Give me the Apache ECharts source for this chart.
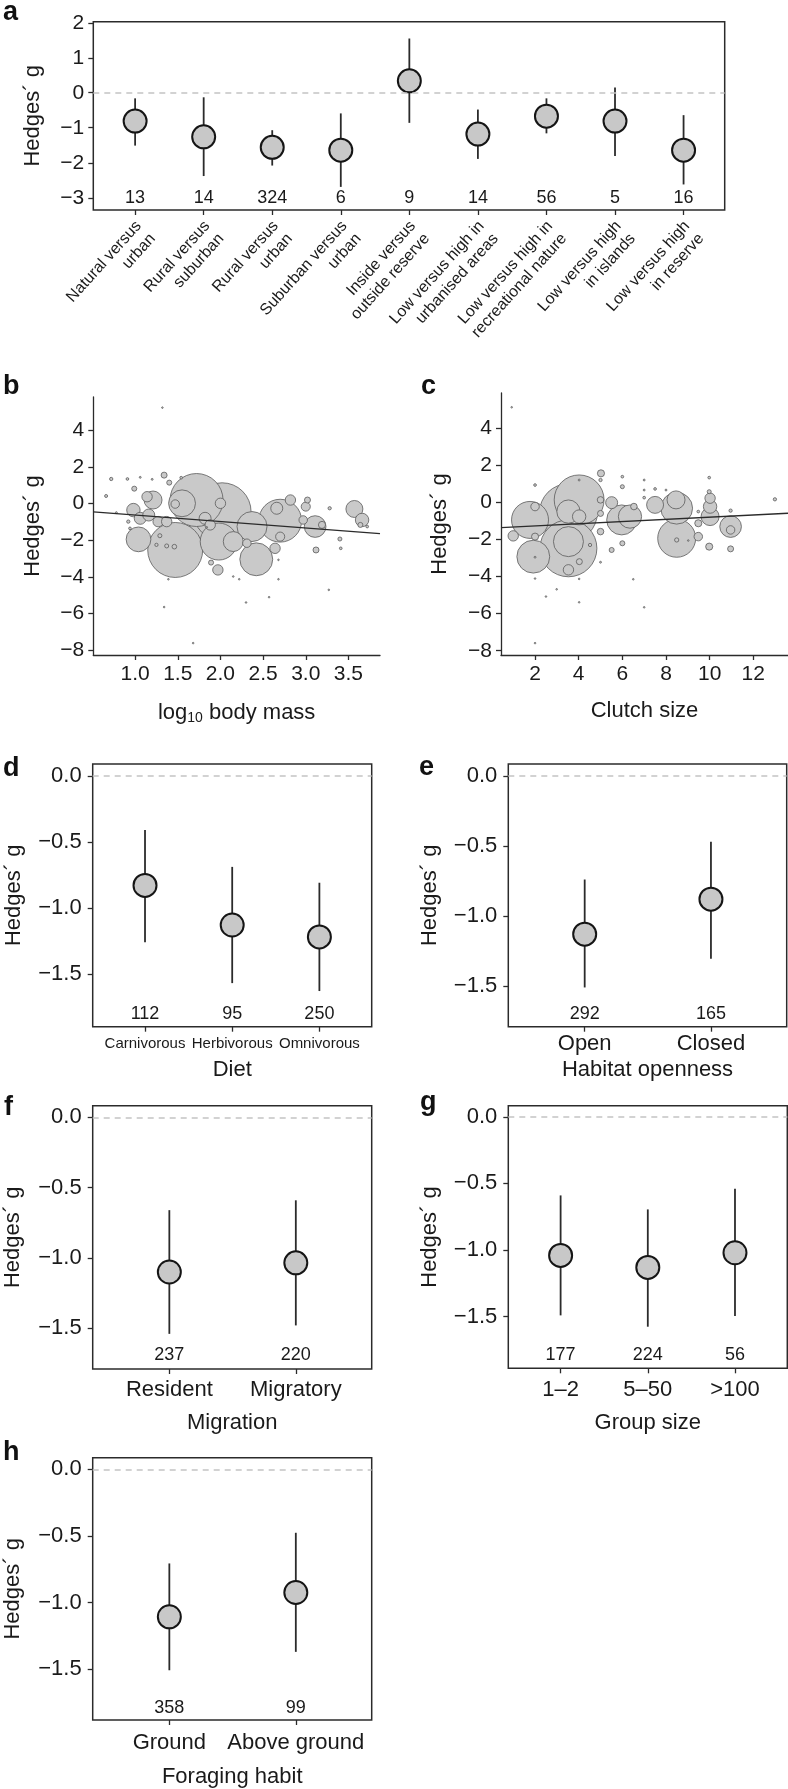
<!DOCTYPE html>
<html><head><meta charset="utf-8">
<script src="https://cdn.jsdelivr.net/npm/echarts@6/dist/echarts.min.js"></script>
<style>html,body{margin:0;padding:0;background:#fff}#c{width:788px;height:1789px}</style>
</head><body><div id="c"></div>
<script>
const FONT = '"Liberation Sans", Arial, Helvetica, sans-serif';
const INK = '#1a1a1a';
const Y_NAME = 'Hedges\u00b4 g';

// ---------- Panel a ----------
const aCategories = ['Natural versus\nurban', 'Rural versus\nsuburban', 'Rural versus\nurban', 'Suburban versus\nurban',
  'Inside versus\noutside reserve', 'Low versus high in\nurbanised areas', 'Low versus high in\nrecreational nature',
  'Low versus high\nin islands', 'Low versus high\nin reserve'];
const aMean  = [-0.81, -1.26, -1.56, -1.64, 0.34, -1.18, -0.67, -0.81, -1.64];
const aLower = [-1.51, -2.38, -2.08, -2.69, -0.86, -1.89, -1.16, -1.81, -2.62];
const aUpper = [-0.16, -0.13, -1.07, -0.59, 1.55, -0.48, -0.16, 0.15, -0.64];
const aN     = [13, 14, 324, 6, 9, 14, 56, 5, 16];
const aYTicks = [-3, -2, -1, 0, 1, 2];

// ---------- Panel b (log10 body mass) ----------
const bLogMass = [1.96, 2.02, 1.47, 1.72, 2.70, 1.98, 2.42, 1.55, 2.37, 1.04, 3.11, 2.15, 1.21, 3.57, 3.66,
  0.98, 1.06, 1.16, 1.82, 2.66, 2.82, 1.27, 1.37, 1.14, 1.88, 2.00, 2.64, 3.00, 1.97, 2.70, 1.47, 2.31, 2.97, 3.19,
  3.02, 1.34, 3.12, 1.46, 1.37, 1.29, 1.25, 3.64, 0.99, 1.40, 1.89, 3.40, 3.28, 0.72, 0.66, 0.91, 1.54, 3.41, 3.72,
  0.94, 0.92, 1.06, 1.20, 0.78,
  1.32, 1.34, 1.68, 1.39, 2.22, 2.30, 2.57, 2.68, 3.27, 2.68, 2.15, 1.84];
const bHedges = [-0.56, -0.44, -2.53, 0.20, -0.93, -2.07, -3.04, 0.02, -1.25, -1.95, -1.25, -2.07, 0.20, -0.29, -0.89,
  -0.35, -0.80, -0.62, -0.80, -0.25, 0.20, -0.98, -0.98, 0.38, -1.16, 0.02, -2.44, -0.16, -3.62, -1.80, -0.02, -2.16, -0.89, -1.16,
  0.20, 1.56, -2.53, -2.35, -2.31, -1.75, -2.25, -1.16, 0.82, 1.15, -3.22, -1.93, -0.25, 1.35, 0.42, 1.35, 1.42, -2.44, -1.25,
  -1.35, -0.98, 1.44, 1.33, -0.49,
  5.25, -5.65, -7.62, -4.13, -4.13, -5.40, -5.11, -4.13, -4.71, -3.07, -3.98, -1.29];
const bWeight = [100, 93, 84, 78, 51, 38, 30, 20, 25, 17, 13, 11, 9, 8, 5,
  5, 4, 4, 4, 4, 3, 3, 3, 3, 3, 3, 3, 2.3, 3, 2.3, 2, 2, 2, 1.4,
  1, 1, 1, 0.6, 0.45, 0.45, 0.3, 0.7, 0.7, 0.7, 0.7, 0.45, 0.3, 0.3, 0.25, 0.2, 0.2, 0.2, 0.2,
  0.2, 0.3, 0.1, 0.1, 0.1,
  0.05, 0.05, 0.05, 0.05, 0.05, 0.05, 0.05, 0.05, 0.05, 0.05, 0.05, 0.05];
const bFitX = [0.51, 3.87];
const bFitY = [-0.45, -1.64];
const bXTicks = [1.0, 1.5, 2.0, 2.5, 3.0, 3.5];

// ---------- Panel c (clutch size) ----------
const cClutch = [3.53, 3.53, 4.02, 8.49, 1.77, 1.92, 8.49, 5.97, 3.53, 3.53, 6.35, 10.96, 8.46, 10.02, 7.50,
  4.02, 5.51, 10.02, 3.53, 1.00, 10.02, 2.00, 9.48, 10.96, 5.02, 2.00, 9.98, 9.48, 5.00, 5.00, 6.53, 4.03, 10.96,
  5.51, 6.00, 8.49, 6.00, 5.00, 5.00, 10.96, 9.98, 12.99, 4.52, 7.00, 6.00, 9.98, 7.50, 9.48, 2.00, 7.00, 7.00, 8.00, 4.02,
  0.93, 2.00, 2.50, 2.99, 4.02, 4.02, 6.50, 7.00, 2.00, 5.00, 2.00, 9.02];
const cHedges = [-0.56, -2.48, 0.13, -1.94, -0.95, -2.93, -0.32, -0.95, -2.12, -0.50, -0.77, -1.31, 0.13, -0.77, -0.14,
  -0.77, -0.02, -0.23, -3.64, -1.81, 0.22, -0.23, -1.13, -1.49, 1.56, -1.85, -2.39, -1.85, 0.13, -1.58, -0.23, -3.20, -2.51,
  -2.57, -2.21, -2.03, 0.84, -0.60, 1.20, -0.45, 0.57, 0.16, -2.30, 0.25, 1.38, 1.33, 0.72, -0.50, 0.93, 1.20, 0.66, 0.66, 1.20,
  5.12, -7.59, -5.08, -4.69, -5.39, -4.13, -4.15, -5.66, -4.11, -3.23, -2.96, -2.06];
const cWeight = [93, 90, 69, 40, 38, 30, 28, 25, 25, 15, 15, 13, 9, 9, 8,
  5, 4, 5, 3, 3, 3, 2, 1.4, 2, 1.4, 1.4, 1.4, 2, 1.2, 1.2, 1.2, 1, 1,
  0.7, 0.7, 0.5, 0.45, 1, 0.3, 0.3, 0.45, 0.3, 0.3, 0.2, 0.2, 0.2, 0.2, 0.2, 0.2, 0.1, 0.1, 0.1, 0.1,
  0.05, 0.05, 0.05, 0.05, 0.05, 0.05, 0.05, 0.05, 0.05, 0.1, 0.1, 0.05];
const cFitX = [0.44, 13.59];
const cFitY = [-1.36, -0.59];
const cXTicks = [2, 4, 6, 8, 10, 12];
const scatterYTicks = [-8, -6, -4, -2, 0, 2, 4];

// ---------- Panels d-h ----------
const effectYTicks = [-1.5, -1.0, -0.5, 0.0];
const dCategories = ['Carnivorous', 'Herbivorous', 'Omnivorous'];
const dMean = [-0.83, -1.13, -1.22], dLower = [-1.26, -1.57, -1.63], dUpper = [-0.41, -0.69, -0.81], dN = [112, 95, 250];
const eCategories = ['Open', 'Closed'];
const eMean = [-1.13, -0.88], eLower = [-1.51, -1.305], eUpper = [-0.74, -0.47], eN = [292, 165];
const fCategories = ['Resident', 'Migratory'];
const fMean = [-1.10, -1.035], fLower = [-1.54, -1.48], fUpper = [-0.66, -0.59], fN = [237, 220];
const gCategories = ['1\u20132', '5\u201350', '>100'];
const gMean = [-1.04, -1.13, -1.02], gLower = [-1.49, -1.575, -1.495], gUpper = [-0.59, -0.695, -0.54], gN = [177, 224, 56];
const hCategories = ['Ground', 'Above ground'];
const hMean = [-1.106, -0.924], hLower = [-1.507, -1.369], hUpper = [-0.706, -0.476], hN = [358, 99];

// ---------- build ----------
const minus = s => s.replace('-', '\u2212');
const option = {
  animation: false,
  backgroundColor: '#fff',
  textStyle: { fontFamily: FONT, color: INK },
  grid: [], xAxis: [], yAxis: [], series: [], graphic: []
};
const tickStyle = { color: '#2b2b2b', width: 1.3 };

function addEffectPanel(p) {
  const gi = option.grid.length;
  option.grid.push({ left: p.left, top: p.top, width: p.width, height: p.height, show: true,
    borderColor: '#2b2b2b', borderWidth: 1.5, backgroundColor: 'transparent' });
  const pos = p.cats.map((c, i) => i + 1);
  option.xAxis.push({ gridIndex: gi, type: 'value', min: p.xMin, max: p.xMax, position: 'bottom',
    axisLine: { show: false, onZero: false }, splitLine: { show: false },
    axisTick: { show: true, customValues: pos, length: 5, lineStyle: tickStyle },
    axisLabel: { show: !p.rotate, customValues: pos, formatter: v => p.cats[Math.round(v) - 1], fontSize: p.catFont,
      margin: p.catMargin, color: INK, hideOverlap: false, showMinLabel: true, showMaxLabel: true },
    name: p.xName || '', nameLocation: 'middle', nameGap: p.xNameGap || 30,
    nameTextStyle: { fontSize: 22, color: INK } });
  option.yAxis.push({ gridIndex: gi, type: 'value', min: p.yMin, max: p.yMax, position: 'left',
    axisLine: { show: false, onZero: false }, splitLine: { show: false },
    axisTick: { show: true, customValues: p.yTicks, length: 5, lineStyle: tickStyle },
    axisLabel: { customValues: p.yTicks, formatter: p.yFmt, fontSize: p.yFont, margin: p.yMargin, color: INK,
      showMinLabel: true, showMaxLabel: true },
    name: Y_NAME, nameLocation: 'middle', nameRotate: 90, nameGap: p.yNameGap,
    nameTextStyle: { fontSize: 22, color: INK } });
  option.series.push({ type: 'custom', xAxisIndex: gi, yAxisIndex: gi, silent: true, z: 2,
    data: p.cats.map((c, i) => [i + 1, p.lower[i], p.upper[i]]),
    renderItem: (params, api) => {
      const a = api.coord([api.value(0), api.value(1)]);
      const b = api.coord([api.value(0), api.value(2)]);
      return { type: 'line', shape: { x1: a[0], y1: a[1], x2: b[0], y2: b[1] },
        style: { stroke: '#2b2b2b', lineWidth: 1.8 } };
    } });
  option.series.push({ type: 'scatter', xAxisIndex: gi, yAxisIndex: gi, silent: true, z: 3,
    data: p.mean.map((m, i) => [i + 1, m]), symbol: 'circle', symbolSize: 23,
    itemStyle: { color: '#c8c8c8', borderColor: '#151515', borderWidth: 2, opacity: 1 },
    markLine: { silent: true, symbol: ['none', 'none'], label: { show: false },
      lineStyle: { type: [6, 5], color: '#c4c4c4', width: 1.5 }, data: [{ yAxis: 0 }] } });
  option.series.push({ type: 'custom', xAxisIndex: gi, yAxisIndex: gi, silent: true, z: 4,
    data: p.n.map((n, i) => [i + 1, p.nY, n]),
    renderItem: (params, api) => {
      const pt = api.coord([api.value(0), api.value(1)]);
      return { type: 'text', x: pt[0], y: pt[1],
        style: { text: String(api.value(2)), fill: INK, fontSize: p.nFont, fontFamily: FONT,
          align: 'center', verticalAlign: 'middle' } };
    } });
  if (p.rotate) {
    // rotated two-line category labels, anchored under each category tick
    const rad = p.rotate * Math.PI / 180;
    option.series.push({ type: 'custom', xAxisIndex: gi, yAxisIndex: gi, silent: true, clip: false, z: 4,
      data: pos.map(x => [x, p.yMin]),
      renderItem: (params, api) => {
        const pt = api.coord([api.value(0), api.value(1)]);
        return { type: 'text', x: pt[0] + p.rotDx, y: pt[1] + p.rotDy, rotation: rad,
          style: { text: p.cats[params.dataIndex], fill: INK, fontSize: p.catFont, fontFamily: FONT,
            lineHeight: p.catLineHeight, align: 'right', verticalAlign: 'middle' } };
      } });
  }
}

function addScatterPanel(p) {
  const gi = option.grid.length;
  option.grid.push({ left: p.left, top: p.top, width: p.width, height: p.height, show: false });
  option.xAxis.push({ gridIndex: gi, type: 'value', min: p.xMin, max: p.xMax, position: 'bottom',
    axisLine: { show: true, onZero: false, lineStyle: { color: '#2b2b2b', width: 1.3 } }, splitLine: { show: false },
    axisTick: { show: true, customValues: p.xTicks, length: 5, lineStyle: tickStyle },
    axisLabel: { customValues: p.xTicks, formatter: p.xFmt, fontSize: 21, margin: 9, color: INK,
      showMinLabel: true, showMaxLabel: true },
    name: p.xName, nameLocation: 'middle', nameGap: p.xNameGap,
    nameTextStyle: { fontSize: 22, color: INK, rich: {
      n: { fontSize: 22, fontFamily: FONT, color: INK },
      s: { fontSize: 14, fontFamily: FONT, color: INK, padding: [10, 0, 0, 0] } } } });
  option.yAxis.push({ gridIndex: gi, type: 'value', min: p.yMin, max: p.yMax, position: 'left',
    axisLine: { show: true, onZero: false, lineStyle: { color: '#2b2b2b', width: 1.3 } }, splitLine: { show: false },
    axisTick: { show: true, customValues: scatterYTicks, length: 5, lineStyle: tickStyle },
    axisLabel: { customValues: scatterYTicks, formatter: v => minus(String(v)), fontSize: 21, margin: 9, color: INK,
      showMinLabel: true, showMaxLabel: true },
    name: Y_NAME, nameLocation: 'middle', nameRotate: 90, nameGap: p.yNameGap,
    nameTextStyle: { fontSize: 22, color: INK } });
  const pts = p.x.map((x, i) => [x, p.y[i], p.w[i]]).sort((u, v) => v[2] - u[2]);
  option.series.push({ type: 'scatter', xAxisIndex: gi, yAxisIndex: gi, silent: true, clip: false, z: 2,
    data: pts, symbol: 'circle',
    symbolSize: d => Math.max(1.6, 6 * Math.sqrt(d[2])),
    itemStyle: { color: '#c9c9c9', borderColor: '#5a5a5a', borderWidth: 0.8, opacity: 1 } });
  option.series.push({ type: 'line', xAxisIndex: gi, yAxisIndex: gi, silent: true, z: 5,
    data: p.fitX.map((x, i) => [x, p.fitY[i]]), showSymbol: false, symbol: 'none',
    lineStyle: { color: '#2b2b2b', width: 1.3 } });
}

const fmt1 = v => (v < 0 ? '\u2212' : '') + Math.abs(v).toFixed(1);

addEffectPanel({ left: 93.3, top: 21.7, width: 631.4, height: 188.3, xMin: 0.39, xMax: 9.6, yMin: -3.35, yMax: 2.03,
  cats: aCategories, mean: aMean, lower: aLower, upper: aUpper, n: aN, nY: -3.0, nFont: 18,
  yTicks: aYTicks, yFmt: v => minus(String(v)), yFont: 21, yMargin: 9, yNameGap: 49,
  catFont: 16, rotate: 48, catLineHeight: 19, rotDx: 10.5, rotDy: 19.7 });

addScatterPanel({ left: 93.3, top: 397, width: 286.7, height: 258, xMin: 0.51, xMax: 3.87, yMin: -8.27, yMax: 5.83,
  x: bLogMass, y: bHedges, w: bWeight, fitX: bFitX, fitY: bFitY, xTicks: bXTicks, xFmt: v => v.toFixed(1),
  xName: '{n|log}{s|10}{n| body mass}', xNameGap: 46, yNameGap: 49 });
addScatterPanel({ left: 501, top: 393, width: 287, height: 262, xMin: 0.44, xMax: 13.59, yMin: -8.23, yMax: 5.89,
  x: cClutch, y: cHedges, w: cWeight, fitX: cFitX, fitY: cFitY, xTicks: cXTicks, xFmt: v => String(v),
  xName: 'Clutch size', xNameGap: 45, yNameGap: 50 });

addEffectPanel({ left: 92.7, top: 764, width: 279, height: 262.7, xMin: 0.4, xMax: 3.6, yMin: -1.90, yMax: 0.089,
  cats: dCategories, mean: dMean, lower: dLower, upper: dUpper, n: dN, nY: -1.805, nFont: 18,
  yTicks: effectYTicks, yFmt: fmt1, yFont: 22, yMargin: 11, yNameGap: 68,
  catFont: 15, catMargin: 10, xName: 'Diet', xNameGap: 32 });
addEffectPanel({ left: 508.3, top: 764, width: 278.4, height: 262.7, xMin: 0.395, xMax: 2.6, yMin: -1.79, yMax: 0.084,
  cats: eCategories, mean: eMean, lower: eLower, upper: eUpper, n: eN, nY: -1.70, nFont: 18,
  yTicks: effectYTicks, yFmt: fmt1, yFont: 22, yMargin: 11, yNameGap: 67,
  catFont: 22, catMargin: 6, xName: 'Habitat openness', xNameGap: 32 });
addEffectPanel({ left: 92.7, top: 1105.7, width: 279, height: 263.3, xMin: 0.394, xMax: 2.6, yMin: -1.79, yMax: 0.083,
  cats: fCategories, mean: fMean, lower: fLower, upper: fUpper, n: fN, nY: -1.69, nFont: 18,
  yTicks: effectYTicks, yFmt: fmt1, yFont: 22, yMargin: 11, yNameGap: 69,
  catFont: 22, catMargin: 10, xName: 'Migration', xNameGap: 43 });
addEffectPanel({ left: 508.3, top: 1105.7, width: 279, height: 262.6, xMin: 0.4, xMax: 3.6, yMin: -1.887, yMax: 0.083,
  cats: gCategories, mean: gMean, lower: gLower, upper: gUpper, n: gN, nY: -1.79, nFont: 18,
  yTicks: effectYTicks, yFmt: fmt1, yFont: 22, yMargin: 11, yNameGap: 67,
  catFont: 22, catMargin: 10.5, xName: 'Group size', xNameGap: 43.5 });
addEffectPanel({ left: 92.7, top: 1457.7, width: 279, height: 262.3, xMin: 0.394, xMax: 2.6, yMin: -1.88, yMax: 0.087,
  cats: hCategories, mean: hMean, lower: hLower, upper: hUpper, n: hN, nY: -1.79, nFont: 18,
  yTicks: effectYTicks, yFmt: fmt1, yFont: 22, yMargin: 11, yNameGap: 69,
  catFont: 22, catMargin: 12, xName: 'Foraging habit', xNameGap: 45.5 });

// panel letters
const letters = [['a', 3, 22], ['b', 3, 396], ['c', 421, 396], ['d', 3, 778], ['e', 419, 777],
  ['f', 4, 1117], ['g', 420, 1112], ['h', 3, 1462]];
letters.forEach(([t, x, base]) => {
  option.graphic.push({ type: 'text', x: x, y: base - 9,
    style: { text: t, fill: '#111', font: 'bold 27px ' + FONT, align: 'left', verticalAlign: 'middle' } });
});

const chart = echarts.init(document.getElementById('c'), null, { renderer: 'canvas' });
chart.setOption(option);
</script></body></html>
